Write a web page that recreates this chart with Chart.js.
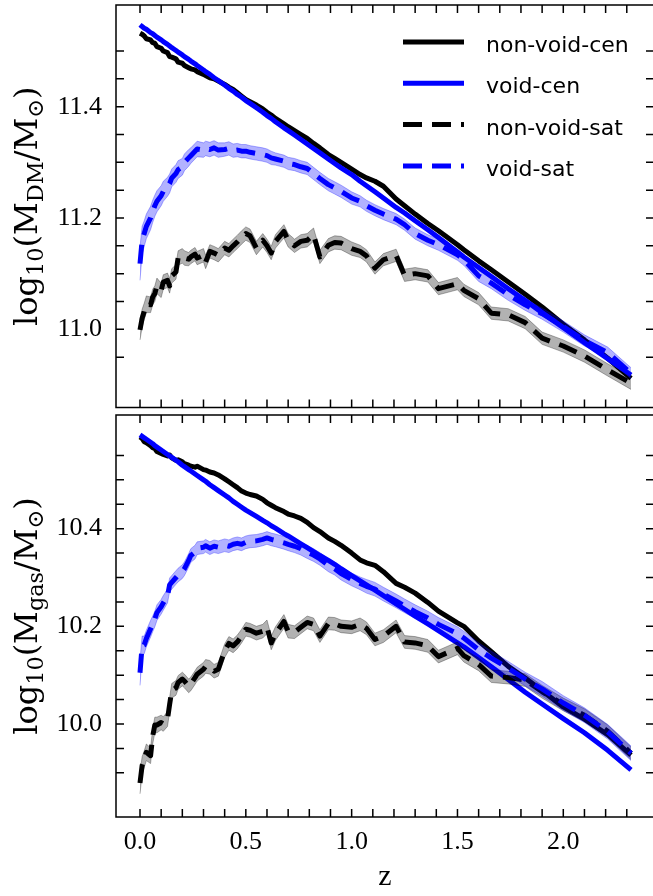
<!DOCTYPE html>
<html>
<head>
<meta charset="utf-8">
<script src="https://cdn.jsdelivr.net/npm/chart.js@4.4.1/dist/chart.umd.min.js"></script>
<style>
  body { margin: 0; overflow: hidden; background: #fff; }
  #wrap { position: relative; width: 653px; height: 896px; overflow: hidden; }
  canvas { position: absolute; left: 0; }
</style>
</head>
<body>
<div id="wrap">
  <canvas id="dmChart" width="660" height="412" style="top:0"></canvas>
  <canvas id="gasChart" width="660" height="484" style="top:412px"></canvas>
</div>
<script>
// redshift of each snapshot
const redshift = [
  0, 0.01, 0.02, 0.03, 0.05, 0.06, 0.07, 0.08, 0.1, 0.11,
  0.13, 0.14, 0.15, 0.17, 0.18, 0.2, 0.21, 0.23, 0.24, 0.26,
  0.27, 0.3, 0.31, 0.33, 0.35, 0.37, 0.4, 0.42, 0.44, 0.46,
  0.48, 0.5, 0.52, 0.55, 0.58, 0.6, 0.62, 0.64, 0.68, 0.7,
  0.73, 0.76, 0.79, 0.82, 0.85, 0.89, 0.92, 0.95, 1.0, 1.04,
  1.07, 1.11, 1.15, 1.21, 1.25, 1.3, 1.36, 1.41, 1.5, 1.53,
  1.6, 1.66, 1.74, 1.82, 1.9, 2.0, 2.1, 2.21, 2.32
];

const seriesNames = ["non-void-cen", "void-cen", "non-void-sat", "void-sat"];

// log10 M_DM
const dmNonVoidCen = [
  11.532, 11.530, 11.527, 11.522, 11.520, 11.515, 11.514, 11.508, 11.505, 11.500,
  11.497, 11.490, 11.489, 11.486, 11.480, 11.478, 11.474, 11.470, 11.468, 11.466,
  11.463, 11.458, 11.456, 11.452, 11.450, 11.446, 11.440, 11.435, 11.431, 11.425,
  11.419, 11.413, 11.409, 11.403, 11.396, 11.390, 11.385, 11.379, 11.369, 11.364,
  11.357, 11.350, 11.343, 11.334, 11.326, 11.314, 11.307, 11.300, 11.288, 11.278,
  11.272, 11.266, 11.257, 11.234, 11.222, 11.207, 11.190, 11.177, 11.152, 11.143,
  11.123, 11.107, 11.085, 11.063, 11.040, 11.009, 10.981, 10.948, 10.912
];
const dmVoidCen = [
  11.547, 11.544, 11.541, 11.539, 11.533, 11.531, 11.528, 11.525, 11.520, 11.517,
  11.512, 11.509, 11.506, 11.501, 11.498, 11.493, 11.490, 11.485, 11.482, 11.477,
  11.474, 11.466, 11.463, 11.458, 11.452, 11.447, 11.439, 11.433, 11.428, 11.422,
  11.417, 11.411, 11.406, 11.398, 11.390, 11.384, 11.379, 11.373, 11.362, 11.357,
  11.349, 11.341, 11.333, 11.325, 11.317, 11.306, 11.298, 11.290, 11.278, 11.266,
  11.258, 11.247, 11.236, 11.219, 11.209, 11.195, 11.179, 11.165, 11.139, 11.130,
  11.111, 11.095, 11.073, 11.052, 11.030, 11.003, 10.976, 10.947, 10.918
];
const dmNonVoidSat = [
  10.999, 11.020, 11.032, 11.045, 11.044, 11.058, 11.064, 11.078, 11.070, 11.085,
  11.088, 11.078, 11.096, 11.103, 11.128, 11.132, 11.128, 11.126, 11.130, 11.135,
  11.128, 11.133, 11.121, 11.140, 11.137, 11.133, 11.146, 11.142, 11.150, 11.157,
  11.165, 11.172, 11.168, 11.146, 11.160, 11.150, 11.137, 11.158, 11.176, 11.160,
  11.150, 11.158, 11.160, 11.170, 11.130, 11.151, 11.156, 11.155, 11.145, 11.140,
  11.132, 11.110, 11.125, 11.133, 11.097, 11.100, 11.096, 11.073, 11.082, 11.070,
  11.055, 11.029, 11.026, 11.012, 10.984, 10.970, 10.952, 10.927, 10.903
];
const dmVoidSat = [
  11.118, 11.160, 11.172, 11.185, 11.200, 11.212, 11.222, 11.230, 11.240, 11.248,
  11.256, 11.262, 11.272, 11.280, 11.287, 11.292, 11.300, 11.308, 11.312, 11.320,
  11.324, 11.322, 11.325, 11.323, 11.326, 11.322, 11.323, 11.325, 11.321, 11.322,
  11.320, 11.320, 11.318, 11.316, 11.314, 11.312, 11.308, 11.306, 11.302, 11.298,
  11.296, 11.292, 11.289, 11.280, 11.271, 11.260, 11.254, 11.248, 11.236, 11.230,
  11.222, 11.214, 11.207, 11.198, 11.188, 11.172, 11.160, 11.152, 11.134, 11.125,
  11.096, 11.083, 11.062, 11.044, 11.028, 11.005, 10.980, 10.958, 10.921
];
const dmNonVoidSatErr = [
  0.018, 0.016, 0.015, 0.015, 0.014, 0.014, 0.014, 0.014, 0.013, 0.013,
  0.013, 0.013, 0.013, 0.013, 0.013, 0.013, 0.013, 0.012, 0.012, 0.012,
  0.012, 0.012, 0.012, 0.012, 0.012, 0.012, 0.012, 0.012, 0.012, 0.012,
  0.012, 0.012, 0.012, 0.012, 0.012, 0.012, 0.012, 0.012, 0.012, 0.012,
  0.012, 0.012, 0.012, 0.012, 0.012, 0.012, 0.012, 0.012, 0.012, 0.011,
  0.011, 0.011, 0.011, 0.011, 0.011, 0.011, 0.011, 0.011, 0.011, 0.011,
  0.011, 0.011, 0.011, 0.011, 0.011, 0.011, 0.011, 0.011, 0.011
];
const dmVoidSatErr = [
  0.030, 0.025, 0.023, 0.022, 0.021, 0.020, 0.019, 0.019, 0.018, 0.018,
  0.017, 0.017, 0.016, 0.016, 0.016, 0.015, 0.015, 0.015, 0.014, 0.014,
  0.014, 0.013, 0.013, 0.013, 0.013, 0.013, 0.012, 0.012, 0.012, 0.012,
  0.012, 0.012, 0.012, 0.012, 0.012, 0.012, 0.012, 0.011, 0.011, 0.011,
  0.011, 0.011, 0.011, 0.011, 0.011, 0.011, 0.011, 0.011, 0.011, 0.010,
  0.010, 0.010, 0.010, 0.010, 0.010, 0.010, 0.010, 0.010, 0.010, 0.010,
  0.010, 0.010, 0.010, 0.010, 0.010, 0.010, 0.010, 0.010, 0.010
];

// log10 M_gas
const gasNonVoidCen = [
  10.588, 10.585, 10.578, 10.576, 10.570, 10.566, 10.564, 10.558, 10.554, 10.552,
  10.549, 10.551, 10.545, 10.540, 10.541, 10.537, 10.533, 10.530, 10.528, 10.526,
  10.528, 10.521, 10.520, 10.516, 10.514, 10.510, 10.502, 10.496, 10.490, 10.484,
  10.477, 10.473, 10.470, 10.467, 10.460, 10.453, 10.448, 10.443, 10.435, 10.430,
  10.426, 10.421, 10.413, 10.402, 10.394, 10.381, 10.374, 10.366, 10.350, 10.336,
  10.330, 10.325, 10.312, 10.288, 10.280, 10.268, 10.249, 10.231, 10.207, 10.200,
  10.170, 10.148, 10.118, 10.094, 10.068, 10.035, 10.010, 9.978, 9.936
];
const gasVoidCen = [
  10.592, 10.589, 10.586, 10.583, 10.577, 10.574, 10.570, 10.567, 10.561, 10.558,
  10.552, 10.549, 10.546, 10.540, 10.537, 10.530, 10.527, 10.521, 10.518, 10.512,
  10.509, 10.500, 10.497, 10.490, 10.484, 10.478, 10.469, 10.463, 10.456, 10.450,
  10.444, 10.438, 10.433, 10.425, 10.417, 10.412, 10.406, 10.401, 10.390, 10.385,
  10.377, 10.369, 10.361, 10.353, 10.345, 10.335, 10.327, 10.318, 10.304, 10.293,
  10.285, 10.274, 10.263, 10.246, 10.235, 10.221, 10.205, 10.191, 10.166, 10.158,
  10.136, 10.117, 10.091, 10.065, 10.041, 10.011, 9.982, 9.946, 9.906
];
const gasNonVoidSat = [
  9.879, 9.915, 9.928, 9.942, 9.935, 9.975, 9.998, 9.998, 10.003, 10.000,
  10.010, 10.040, 10.068, 10.074, 10.085, 10.092, 10.088, 10.078, 10.082, 10.095,
  10.102, 10.112, 10.118, 10.116, 10.108, 10.112, 10.150, 10.165, 10.160, 10.168,
  10.180, 10.194, 10.192, 10.186, 10.190, 10.199, 10.166, 10.185, 10.210, 10.190,
  10.188, 10.198, 10.208, 10.204, 10.180, 10.206, 10.205, 10.200, 10.198, 10.204,
  10.196, 10.173, 10.180, 10.200, 10.168, 10.166, 10.160, 10.138, 10.155, 10.140,
  10.122, 10.098, 10.095, 10.090, 10.066, 10.040, 10.018, 9.985, 9.940
];
const gasVoidSat = [
  10.105, 10.160, 10.162, 10.175, 10.195, 10.205, 10.215, 10.228, 10.240, 10.248,
  10.262, 10.285, 10.290, 10.300, 10.305, 10.312, 10.318, 10.335, 10.345, 10.352,
  10.360, 10.362, 10.365, 10.360, 10.364, 10.362, 10.366, 10.364, 10.368, 10.370,
  10.368, 10.372, 10.374, 10.375, 10.378, 10.381, 10.378, 10.376, 10.371, 10.368,
  10.364, 10.359, 10.352, 10.346, 10.338, 10.325, 10.318, 10.308, 10.296, 10.288,
  10.282, 10.276, 10.266, 10.252, 10.242, 10.230, 10.217, 10.204, 10.185, 10.176,
  10.152, 10.135, 10.114, 10.092, 10.072, 10.043, 10.018, 9.984, 9.940
];
const gasNonVoidSatErr = [
  0.022, 0.018, 0.017, 0.017, 0.016, 0.016, 0.016, 0.016, 0.015, 0.015,
  0.015, 0.015, 0.015, 0.015, 0.014, 0.014, 0.014, 0.014, 0.014, 0.014,
  0.014, 0.014, 0.014, 0.014, 0.014, 0.014, 0.014, 0.014, 0.014, 0.014,
  0.014, 0.014, 0.014, 0.014, 0.014, 0.014, 0.014, 0.014, 0.014, 0.014,
  0.013, 0.013, 0.013, 0.013, 0.013, 0.013, 0.013, 0.013, 0.013, 0.013,
  0.013, 0.013, 0.013, 0.013, 0.013, 0.013, 0.013, 0.013, 0.013, 0.013,
  0.013, 0.013, 0.013, 0.013, 0.013, 0.013, 0.013, 0.013, 0.013
];
const gasVoidSatErr = [
  0.026, 0.020, 0.018, 0.017, 0.017, 0.016, 0.016, 0.016, 0.015, 0.015,
  0.014, 0.014, 0.014, 0.014, 0.014, 0.014, 0.014, 0.014, 0.014, 0.014,
  0.013, 0.013, 0.013, 0.013, 0.013, 0.013, 0.013, 0.013, 0.013, 0.013,
  0.013, 0.013, 0.013, 0.013, 0.013, 0.013, 0.013, 0.013, 0.013, 0.013,
  0.013, 0.013, 0.013, 0.013, 0.013, 0.013, 0.013, 0.013, 0.013, 0.013,
  0.014, 0.014, 0.014, 0.014, 0.014, 0.014, 0.014, 0.014, 0.014, 0.014,
  0.014, 0.014, 0.014, 0.014, 0.015, 0.015, 0.015, 0.015, 0.015
];

const BLACK = "#000000";
const BLUE = "#0000ff";
const GRAY_BAND = "rgba(0,0,0,0.3)";
const BLUE_BAND = "rgba(0,0,255,0.3)";
const TICK_LEN = 8;

Chart.defaults.font.family = "'Liberation Serif', serif";
Chart.defaults.color = "#000";

const onStep = (v, s) => Math.abs(v / s - Math.round(v / s)) < 1e-6;

function line(label, vals, color, dashed, order) {
  return {
    label,
    inLegend: true,
    data: redshift.map((z, i) => ({ x: z, y: vals[i] })),
    borderColor: color,
    borderWidth: 5,
    borderDash: dashed ? [19, 10] : [],
    borderJoinStyle: "round",
    pointRadius: 0,
    fill: false,
    order
  };
}

function band(vals, err, color, order) {
  const hi = redshift.map((z, i) => ({ x: z, y: vals[i] + err[i] }));
  const lo = redshift.map((z, i) => ({ x: z, y: vals[i] - err[i] }));
  return [
    { data: hi, borderColor: color, borderWidth: 1, pointRadius: 0, fill: false, order },
    { data: lo, borderColor: color, borderWidth: 1, pointRadius: 0, fill: "-1", backgroundColor: color, order }
  ];
}

// frame + inward ticks on all four sides
const frameTicks = {
  id: "frameTicks",
  afterDraw(chart) {
    const { ctx, chartArea: a, scales } = chart;
    ctx.save();
    ctx.strokeStyle = "#000";
    ctx.lineWidth = 1.5;
    ctx.beginPath();
    scales.x.ticks.forEach(t => {
      if (!onStep(t.value, 0.1)) return;
      const px = scales.x.getPixelForValue(t.value);
      ctx.moveTo(px, a.bottom); ctx.lineTo(px, a.bottom - TICK_LEN);
      ctx.moveTo(px, a.top); ctx.lineTo(px, a.top + TICK_LEN);
    });
    scales.y.ticks.forEach(t => {
      if (!onStep(t.value, 0.05)) return;
      const py = scales.y.getPixelForValue(t.value);
      ctx.moveTo(a.left, py); ctx.lineTo(a.left + TICK_LEN, py);
      ctx.moveTo(a.right, py); ctx.lineTo(a.right - TICK_LEN, py);
    });
    ctx.stroke();
    ctx.strokeRect(a.left, a.top, a.right - a.left, a.bottom - a.top);
    ctx.restore();
  }
};

// y title with subscripts, rotated
const mathTitle = {
  id: "mathTitle",
  afterDraw(chart, args, opts) {
    const { ctx, chartArea: a } = chart;
    const size = opts.size;
    const fontOf = sub => (sub ? size * 0.7 : size) + "px 'DejaVu Serif', serif";
    let total = 0;
    ctx.save();
    opts.parts.forEach(p => { ctx.font = fontOf(p.sub); total += ctx.measureText(p.t).width; });
    ctx.translate(opts.x, (a.top + a.bottom) / 2);
    ctx.rotate(-Math.PI / 2);
    ctx.fillStyle = "#000";
    ctx.textBaseline = "alphabetic";
    let x = -total / 2;
    opts.parts.forEach(p => {
      ctx.font = fontOf(p.sub);
      ctx.fillText(p.t, x, p.sub ? size * 0.2 : 0);
      x += ctx.measureText(p.t).width;
    });
    ctx.restore();
  }
};

const lineLegend = {
  id: "lineLegend",
  afterDraw(chart, args, opts) {
    if (!opts.show) return;
    const ctx = chart.ctx;
    const items = chart.data.datasets.filter(d => d.inLegend);
    ctx.save();
    ctx.font = "22px 'DejaVu Sans', sans-serif";
    ctx.textBaseline = "alphabetic";
    items.forEach((d, i) => {
      const y = opts.top + i * opts.gap;
      ctx.beginPath();
      ctx.setLineDash(d.borderDash);
      ctx.lineWidth = d.borderWidth;
      ctx.strokeStyle = d.borderColor;
      ctx.moveTo(opts.left, y);
      ctx.lineTo(opts.left + opts.len, y);
      ctx.stroke();
      ctx.setLineDash([]);
      ctx.fillStyle = "#000";
      ctx.fillText(d.label, opts.textLeft, y + 10);
    });
    ctx.restore();
  }
};

function makePanel(canvasId, vals, yRange, sub, isBottom) {
  const [nvCen, vCen, nvSat, vSat, nvErr, vErr] = vals;
  const datasets = [
    line(seriesNames[0], nvCen, BLACK, false, 6),
    line(seriesNames[1], vCen, BLUE, false, 5),
    ...band(nvSat, nvErr, GRAY_BAND, 4),
    line(seriesNames[2], nvSat, BLACK, true, 3),
    ...band(vSat, vErr, BLUE_BAND, 2),
    line(seriesNames[3], vSat, BLUE, true, 1)
  ];
  return new Chart(document.getElementById(canvasId), {
    type: "line",
    data: { datasets },
    plugins: [frameTicks, mathTitle, lineLegend],
    options: {
      responsive: false,
      animation: false,
      layout: { padding: isBottom ? { top: 3, bottom: 0, left: 0, right: 6 } : { top: 5, bottom: 4.5, left: 0, right: 6 } },
      plugins: {
        legend: { display: false },
        tooltip: { enabled: false },
        mathTitle: {
          x: 37,
          size: 32,
          parts: [
            { t: "log" }, { t: "10", sub: true }, { t: "(M" }, { t: sub, sub: true },
            { t: "/M" }, { t: "\u2299", sub: true }, { t: ")" }
          ]
        },
        lineLegend: { show: !isBottom, left: 403, len: 61, textLeft: 486, top: 42, gap: 41.3 }
      },
      scales: {
        x: {
          type: "linear",
          min: -0.1134,
          max: 2.4286,
          grid: { display: false, drawTicks: false },
          border: { display: false },
          ticks: {
            display: isBottom,
            stepSize: 0.1,
            autoSkip: false,
            maxRotation: 0,
            padding: 9.5,
            font: { size: 26 },
            callback: v => (onStep(v, 0.5) ? v.toFixed(1) : "")
          },
          title: {
            display: isBottom,
            text: "z",
            font: { size: 30 },
            padding: { top: 0, bottom: 1 }
          },
          afterFit: s => {
            s.height = isBottom ? 79 : 0;
            s.paddingLeft = 0;
            s.paddingRight = 0;
          }
        },
        y: {
          min: yRange[0],
          max: yRange[1],
          grid: { display: false, drawTicks: false },
          border: { display: false },
          ticks: {
            stepSize: 0.05,
            autoSkip: false,
            padding: 14,
            font: { size: 26 },
            callback: v => (onStep(v, 0.2) ? v.toFixed(1) : "")
          },
          afterFit: s => {
            s.width = 116;
            s.paddingTop = 0;
            s.paddingBottom = 0;
          }
        }
      }
    }
  });
}

makePanel("dmChart",
  [dmNonVoidCen, dmVoidCen, dmNonVoidSat, dmVoidSat, dmNonVoidSatErr, dmVoidSatErr],
  [10.8595, 11.5827], "DM", false);
makePanel("gasChart",
  [gasNonVoidCen, gasVoidCen, gasNonVoidSat, gasVoidSat, gasNonVoidSatErr, gasVoidSatErr],
  [9.8095, 10.6328], "gas", true);
</script>
</body>
</html>
